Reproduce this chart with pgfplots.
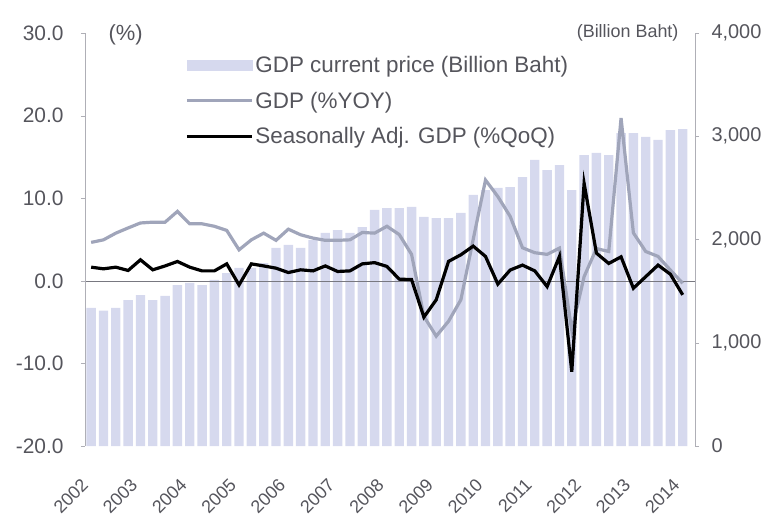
\documentclass[border=0pt]{standalone}
\usepackage{pgfplots}
\pgfplotsset{compat=1.18}
\usepackage{pgfplotstable}
\usepackage{fontspec}
\setmainfont{Liberation Sans}
\definecolor{barc}{RGB}{214,217,238}
\definecolor{yoyc}{RGB}{160,165,186}
\definecolor{txt}{RGB}{85,85,92}
\definecolor{axc}{RGB}{175,175,182}
\definecolor{zeroc}{RGB}{120,120,128}

\pgfplotstableread{
q bb yoy qoq
1 1337 4.65 1.65
2 1310 4.96 1.45
3 1337 5.77 1.65
4 1414 6.4 1.25
5 1462 7.0 2.54
6 1414 7.1 1.33
7 1453 7.1 1.8
8 1559 8.4 2.34
9 1579 6.9 1.65
10 1559 6.9 1.2
11 1608 6.6 1.2
12 1675 6.1 2.05
13 1724 3.75 -0.5
14 1724 4.96 2.05
15 1772 5.77 1.8
16 1918 4.9 1.53
17 1947 6.25 1.0
18 1918 5.57 1.33
19 1995 5.17 1.2
20 2063 4.9 1.8
21 2092 4.9 1.13
22 2063 4.96 1.2
23 2121 5.85 2.05
24 2286 5.77 2.2
25 2305 6.6 1.74
26 2305 5.6 0.2
27 2315 3.2 0.15
28 2218 -4.3 -4.4
29 2208 -6.7 -2.3
30 2208 -4.9 2.35
31 2257 -2.3 3.15
32 2431 5.0 4.2
33 2479 12.2 2.95
34 2499 10.2 -0.4
35 2508 7.8 1.3
36 2605 4.0 1.9
37 2770 3.4 1.2
38 2673 3.2 -0.7
39 2721 3.95 2.95
40 2479 -6.0 -11.0
41 2818 0.5 11.8
42 2838 3.9 3.35
43 2818 3.55 2.1
44 3031 19.7 2.9
45 3031 5.8 -0.9
46 2993 3.55 0.5
47 2964 2.95 1.9
48 3060 1.3 0.8
49 3070 -0.3 -1.7
}\data

\begin{document}
\begin{tikzpicture}
\useasboundingbox (-85bp,-71bp) rectangle (684bp,446bp);
% right axis with bars
\begin{axis}[at={(0,0)}, anchor=south west, scale only axis,
  width=610bp, height=413bp,
  xmin=0.5, xmax=50, ymin=0, ymax=4000,
  axis y line*=right, axis x line*=bottom,
  x axis line style={draw=none},
  y axis line style={draw=axc},
  xtick={1.1,5.1,...,49.1},
  xticklabels={2002,2003,2004,2005,2006,2007,2008,2009,2010,2011,2012,2013,2014},
  x tick style={draw=none},
  xticklabel shift=27bp,
  xticklabel style={xshift=-12bp, rotate=45, anchor=north east, inner sep=0pt, font=\fontsize{18}{21}\selectfont},
  ytick={0,1000,2000,3000,4000},
  yticklabels={0,{1,000},{2,000},{3,000},{4,000}},
  y tick style={draw=axc},
  tick align=outside, major tick length=4bp,
  yticklabel style={xshift=9bp, font=\fontsize{20}{24}\selectfont},
  ticklabel style={text=txt},
]
\addplot[ybar, bar width=0.76, fill=barc, draw=none] table[x=q, y=bb] {\data};
\end{axis}
% left axis with lines
\begin{axis}[at={(0,0)}, anchor=south west, scale only axis,
  width=610bp, height=413bp,
  xmin=0.5, xmax=50, ymin=-20, ymax=30,
  axis y line*=left, axis x line*=middle,
  x axis line style={draw=zeroc, -},
  xtick=\empty,
  minor xtick={1.5,2.5,...,49.5},
  minor x tick style={draw=zeroc},
  minor tick length=4bp,
  y axis line style={draw=axc},
  y tick style={draw=axc},
  tick align=outside, major tick length=4bp,
  ytick={-20,-10,0,10,20,30},
  yticklabels={-20.0,-10.0,0.0,10.0,20.0,30.0},
  yticklabel style={xshift=-14bp},
  ticklabel style={font=\fontsize{21}{25}\selectfont, text=txt},
  legend style={at={(100bp,392bp)}, anchor=north west, draw=none, fill=none,
    font=\fontsize{22.5}{26}\selectfont, text=txt, row sep=14bp, inner sep=0pt},
  legend cell align=left,
  legend image code/.code={\draw[#1] (0bp,0bp) -- (65bp,0bp);},
]
\addlegendimage{legend image code/.code={\fill[barc] (0bp,-5bp) rectangle (65bp,5bp);}}
\addlegendentry{GDP current price (Billion Baht)}
\addplot[yoyc, line width=3.2bp] table[x=q, y=yoy] {\data};
\addlegendentry{GDP (\%YOY)}
\addplot[black, line width=3.2bp] table[x=q, y=qoq] {\data};
\addlegendentry{Seasonally Adj. GDP (\%QoQ)}
\end{axis}
\node[anchor=west, text=txt, font=\fontsize{22}{26}\selectfont] at (20bp,411bp) {(\%)};
\node[anchor=east, text=txt, font=\fontsize{18}{22}\selectfont] at (597bp,413bp) {(Billion Baht)};
\end{tikzpicture}
\end{document}
